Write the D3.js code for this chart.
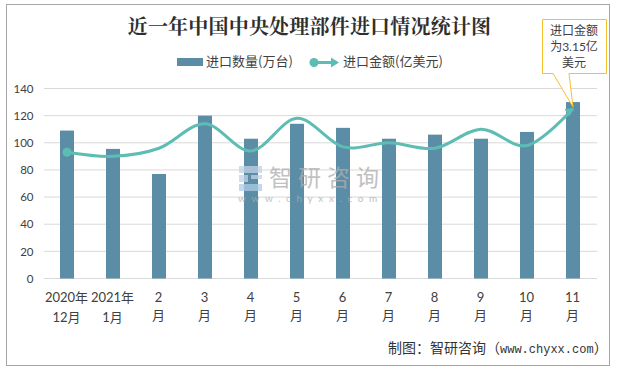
<!DOCTYPE html>
<html><head><meta charset="utf-8">
<script src="https://cdn.jsdelivr.net/npm/d3@7/dist/d3.min.js"></script>
<style>html,body{margin:0;padding:0;background:#fff}svg{display:block}</style>
</head><body><svg id="c" width="617" height="370"></svg>
<script>
const categories=[["2020年","12月"],["2021年","1月"],["2","月"],["3","月"],["4","月"],["5","月"],["6","月"],["7","月"],["8","月"],["9","月"],["10","月"],["11","月"]];
const quantity=[109,95.5,77,120,103,114,111,103,106,103,108,130];
const amount=[93,90,96,114,94,118,97,100,96,110,98,125];
const yTicks=[0,20,40,60,80,100,120,140];
const titleText="近一年中国中央处理部件进口情况统计图";
const legendBar="进口数量(万台)";
const legendLine="进口金额(亿美元)";
const calloutLines=["进口金额","为3.15亿","美元"];
const sourceHead="制图：智研咨询（";
const sourceUrl="www.chyxx.com";
const sourceTail="）";
const sans="Lato,'Noto Sans CJK SC',sans-serif";
const cjk="'Noto Sans CJK SC',sans-serif";
const serif="'Noto Serif CJK SC','Noto Sans CJK SC',serif";
const svg=d3.select("#c");
svg.append("rect").attr("x",6.5).attr("y",4.5).attr("width",603).attr("height",361).attr("fill","#fff").attr("stroke","#a6a6a6").attr("stroke-width",1);
const x=d3.scaleBand().domain(d3.range(categories.length)).range([44,596]);
const y=d3.scaleLinear().domain([0,140]).range([278.5,88.5]);
const cx=i=>x(i)+x.bandwidth()/2;
svg.append("g").selectAll("line").data(yTicks).join("line").attr("x1",44).attr("x2",597).attr("y1",d=>y(d)).attr("y2",d=>y(d)).attr("stroke","#d9d9d9").attr("stroke-width",1);
const yAxis=d3.axisLeft(y).tickValues(yTicks).tickSize(0).tickPadding(0);
const gy=svg.append("g").attr("transform","translate(33.5,0)").call(yAxis);
gy.select(".domain").remove();
gy.selectAll("text").attr("font-family",sans).attr("font-size",11.5).attr("fill","#404040");
svg.append("g").selectAll("rect").data(quantity).join("rect").attr("x",(d,i)=>cx(i)-7).attr("width",14).attr("y",d=>y(d)).attr("height",d=>y(0)-y(d)).attr("fill","#5b8ea6");
// watermark above bars
const wm=svg.append("g").attr("opacity",0.75);
wm.append("rect").attr("x",239).attr("y",166).attr("width",23).attr("height",7).attr("fill","#c2d2e6");
wm.append("rect").attr("x",239).attr("y",175).attr("width",9).attr("height",7).attr("fill","#c2d2e6");
wm.append("rect").attr("x",251).attr("y",175).attr("width",11).attr("height",4).attr("fill","#c2d2e6");
wm.append("rect").attr("x",239).attr("y",184).attr("width",23).attr("height",7).attr("fill","#aecde8");
wm.append("text").attr("x",269).attr("y",185.5).attr("font-family",cjk).attr("font-size",23).attr("letter-spacing",6).attr("fill","#adadad").text("智研咨询");
wm.append("text").attr("x",238).attr("y",202).attr("font-family","Lato,sans-serif").attr("font-size",10).attr("letter-spacing",5.6).attr("fill","#adadad").text("www.chyxx.com");
const line=d3.line().x((d,i)=>cx(i)).y(d=>y(d)).curve(d3.curveCardinal.tension(0));
svg.append("path").attr("d",line(amount)).attr("fill","none").attr("stroke","#5dbdb4").attr("stroke-width",3);
svg.append("circle").attr("cx",cx(0)).attr("cy",y(amount[0])).attr("r",4.5).attr("fill","#5dbdb4");
const last=amount.length-1;
const ax=cx(last)+1,ay=y(amount[last])-1;
svg.append("path").attr("d",`M${ax},${ay}l-9.5,1.5l5,7z`).attr("fill","#5dbdb4");
const gx=svg.append("g").selectAll("g").data(categories).join("g");
gx.each(function(d,i){
  const g=d3.select(this);
  d.forEach((t,j)=>g.append("text").attr("x",cx(i)-0.5).attr("y",j===0?302:(i<2?322:320)).attr("text-anchor","middle").attr("font-family",sans).attr("font-size",13).attr("fill","#404040").text(t));
});
svg.append("text").attr("x",309.5).attr("y",34).attr("text-anchor","middle").attr("font-family",serif).attr("font-weight","bold").attr("font-size",20).attr("letter-spacing",0.2).attr("fill","#2f2f2f").text(titleText);
svg.append("rect").attr("x",177).attr("y",58).attr("width",26).attr("height",8).attr("fill","#5b8ea6");
svg.append("text").attr("x",206).attr("y",66).attr("font-family",cjk).attr("font-size",13).attr("fill","#404040").text(legendBar);
svg.append("line").attr("x1",314).attr("x2",336).attr("y1",62.5).attr("y2",62.5).attr("stroke","#5dbdb4").attr("stroke-width",3);
svg.append("circle").attr("cx",314).attr("cy",62.5).attr("r",4.5).attr("fill","#5dbdb4");
svg.append("path").attr("d","M339,62.5l-8,-5v10z").attr("fill","#5dbdb4");
svg.append("text").attr("x",343).attr("y",66).attr("font-family",cjk).attr("font-size",13).attr("fill","#404040").text(legendLine);
svg.append("path").attr("d","M542.5,19.5H606.5V73.5H569L573,107L553,73.5H542.5Z").attr("fill","#fff").attr("stroke","#f5c02c").attr("stroke-width",1);
calloutLines.forEach((t,i)=>svg.append("text").attr("x",574).attr("y",35+i*16).attr("text-anchor","middle").attr("font-family",sans).attr("font-size",12).attr("fill","#404040").text(t));
const src=svg.append("text").attr("x",388).attr("y",353).attr("font-family",cjk).attr("font-size",14).attr("fill","#333");
src.append("tspan").text(sourceHead);
src.append("tspan").attr("font-family","'Liberation Mono',monospace").attr("font-size",12).text(sourceUrl);
src.append("tspan").text(sourceTail);
</script></body></html>
